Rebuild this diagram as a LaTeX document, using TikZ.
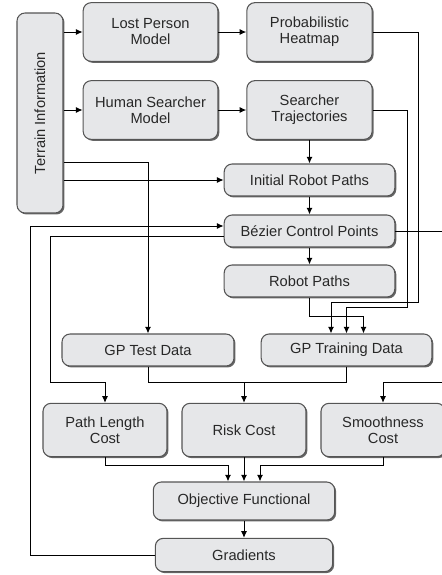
\documentclass[tikz,border=0pt]{standalone}
\usepackage{fontspec}
\setmainfont{Liberation Sans}
\usepackage{tikz}
\usetikzlibrary{arrows.meta, positioning, calc, shadows}
\definecolor{boxfill}{RGB}{230, 231, 233}
\definecolor{boxline}{RGB}{85, 85, 85}
\definecolor{boxtext}{RGB}{40, 40, 40}

\tikzset{
    block/.style={draw=boxline, line width=0.8pt, fill=boxfill, rounded corners=6pt,
        align=center, text=boxtext, inner sep=2pt, font=\fontsize{11}{12}\selectfont,
        drop shadow={shadow xshift=1.1pt, shadow yshift=-1.1pt, fill=black!60, opacity=1}},
    link/.style={line width=0.75pt, draw=black},
    arr/.style={link, -{Latex[length=5pt, width=4.5pt]}}
}

\begin{document}
\begin{tikzpicture}[x=0.75pt, y=-0.75pt]
    \clip (0,0) rectangle (442,575);

    % Inputs
    \node[block, minimum width=34.5pt, minimum height=150pt] (terrain) at (40,113) {\rotatebox{90}{Terrain Information}};
    \node[block, minimum width=101pt, minimum height=44pt] (lost) at (150.5,32) {Lost Person\\Model};
    \node[block, minimum width=94pt, minimum height=44pt] (heat) at (309.5,32) {Probabilistic\\Heatmap};
    \node[block, minimum width=101pt, minimum height=44pt] (human) at (150.5,110) {Human Searcher\\Model};
    \node[block, minimum width=94pt, minimum height=44pt] (traj) at (309.5,110) {Searcher\\Trajectories};

    % Robot path chain
    \node[block, minimum width=128pt, minimum height=24pt] (init) at (309.5,180) {Initial Robot Paths};
    \node[block, minimum width=128pt, minimum height=24pt] (bez) at (309.5,231) {Bézier Control Points};
    \node[block, minimum width=128pt, minimum height=24pt] (robot) at (309.5,281) {Robot Paths};

    % GP data
    \node[block, minimum width=129pt, minimum height=24pt] (test) at (148,350) {GP Test Data};
    \node[block, minimum width=128pt, minimum height=24pt] (train) at (346.5,350) {GP Training Data};

    % Costs
    \node[block, minimum width=93pt, minimum height=40pt] (plen) at (105,430) {Path Length\\Cost};
    \node[block, minimum width=93pt, minimum height=40pt] (risk) at (244,430) {Risk Cost};
    \node[block, minimum width=93pt, minimum height=40pt] (smooth) at (383,430) {Smoothness\\Cost};
    \node[block, minimum width=136pt, minimum height=28.5pt] (obj) at (244,501) {Objective Functional};
    \node[block, minimum width=133pt, minimum height=25pt] (grad) at (244,555) {Gradients};

    % Entry points
    \coordinate (tin1) at ($(train.north)+(-15.5,0)$);
    \coordinate (tin2) at (train.north);
    \coordinate (tin3) at ($(train.north)+(17,0)$);
    \coordinate (jr) at ($(risk.north)+(0,-20)$);

    % Top rows
    \draw[arr] (terrain.east |- lost.west) -- (lost.west);
    \draw[arr] (terrain.east |- human.west) -- (human.west);
    \draw[arr] (lost) -- (heat);
    \draw[arr] (human) -- (traj);
    \draw[arr] (terrain.east |- init.west) -- (init.west);
    \draw[arr] ($(terrain.east)+(0,49)$) -| (test.north);

    % Chain
    \draw[arr] (traj) -- (init);
    \draw[arr] (init) -- (bez);
    \draw[arr] (bez) -- (robot);

    % Into GP training data
    \draw[arr] (heat.east) -- ++(46,0) |- ($(tin1)+(0,-31)$) -- (tin1);
    \draw[arr] (traj.east) -- ++(35,0) |- ($(tin2)+(0,-26)$) -- (tin2);
    \draw[arr] (robot.south) -- ++(0,19) -| (tin3);

    % Feedback loops
    \draw[arr] (grad.west) -- ++(-124.5,0) |- ($(bez.west)+(0,-5)$);
    \draw[arr] ($(bez.west)+(0,5)$) -- ++(-173,0) |- ($(plen.north)+(0,-20)$) -- (plen.north);
    \draw[arr] (bez.east) -- ++(52,0) |- ($(smooth.north)+(0,-20)$) -- (smooth.north);

    % Risk inputs
    \draw[link] (test.south) |- (jr);
    \draw[link] (train.south) |- (jr);
    \draw[arr] (jr) -- (risk.north);

    % Objective
    \draw[arr] (plen.south) -- ++(0,8) -| ($(obj.north)+(-16,0)$);
    \draw[arr] (risk) -- (obj);
    \draw[arr] (smooth.south) -- ++(0,8) -| ($(obj.north)+(16,0)$);
    \draw[arr] (obj) -- (grad);
\end{tikzpicture}
\end{document}
